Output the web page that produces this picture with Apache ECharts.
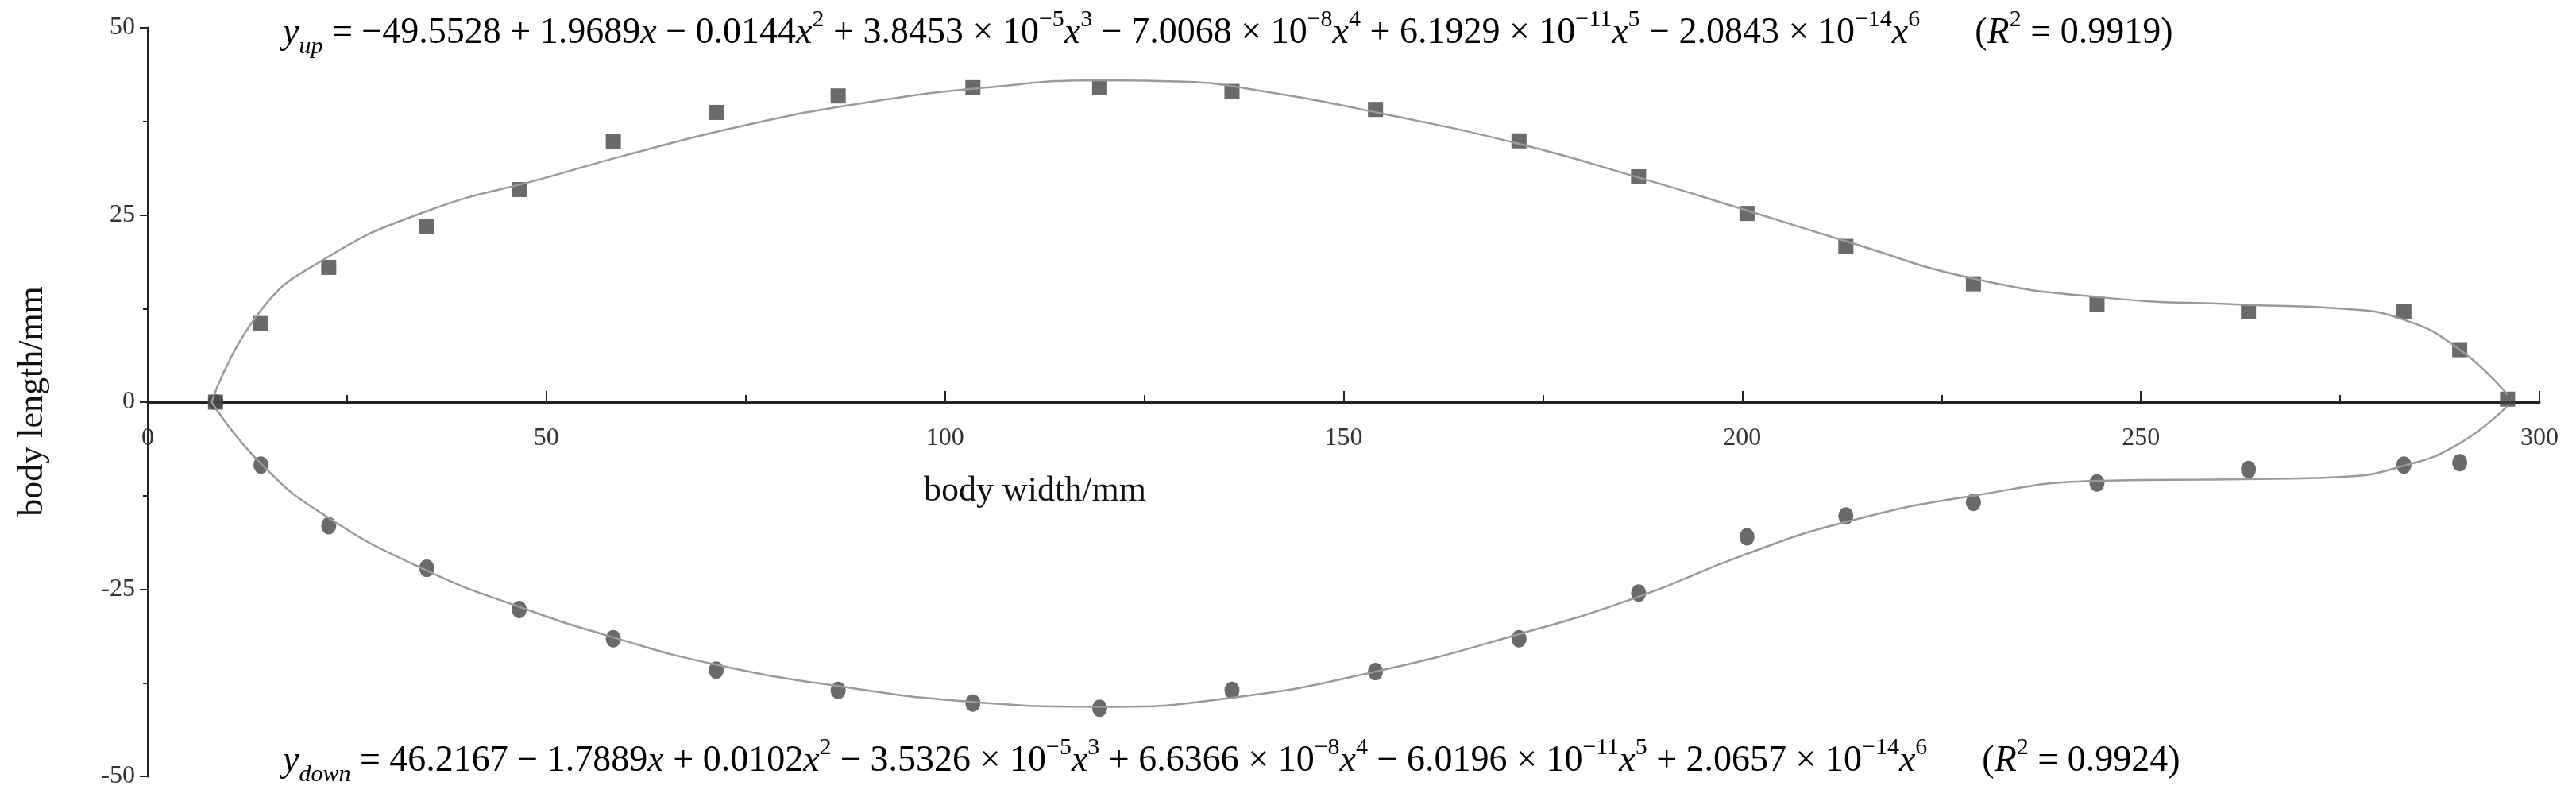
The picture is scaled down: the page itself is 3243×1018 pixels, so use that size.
<!DOCTYPE html>
<html><head><meta charset="utf-8">
<script src="https://cdn.jsdelivr.net/npm/echarts@6/dist/echarts.min.js"></script>
<style>html,body{margin:0;padding:0;background:#fff}#c{width:3243px;height:1018px}</style>
</head><body><div id="c"></div>
<script>
const upX = [8.5,14.2,22.7,35,46.6,58.4,71.3,86.6,103.5,119.4,136,154,172,187,200.6,213,229,244.5,263.5,283,290,296];
const upY = [0,10.5,18,23.5,28.4,34.8,38.7,40.9,42,42,41.5,39.1,34.9,30.1,25.2,20.8,15.8,13,12.1,12.1,7,0.4];
const downX = [14.2,22.7,35,46.6,58.4,71.3,86.6,103.5,119.4,136,154,172,187,200.6,213,229,244.5,263.5,283,290];
const downY = [-8.4,-16.5,-22.2,-27.7,-31.6,-35.8,-38.5,-40.2,-40.9,-38.5,-36,-31.6,-25.5,-18,-15.2,-13.4,-10.8,-9,-8.4,-8.1];
const fitUpX = [8,14,22,35,50,60,75,90,105,120,130,140,155,172,187,200,213,229,245,263,275,283,290,296];
const fitUpY = [0,12,19,25.5,30,33,37,40,42,43,42.8,41.5,38.5,34.5,30,25.8,21.5,16.5,14,13,12.5,11,7,1];
const fitDnX = [8,14,22,35,47,58,71,87,103,120,136,154,172,187,200,213,229,245,263,275,283,290,296];
const fitDnY = [0,-8,-15,-22.5,-27.5,-31.3,-35,-38,-40,-40.7,-39.5,-36,-31,-26,-20.5,-16,-12.5,-10.5,-10.3,-10,-8.5,-5.5,-0.5];
const xTicks = [0,50,100,150,200,250,300];
const yTicks = [-50,-25,0,25,50];

const pair = (xs, ys) => xs.map((x,i)=>[x,ys[i]]);
const fs = 46, ss = 30, lh = 64;
const base = {fontFamily:'Liberation Serif',color:'#111',lineHeight:lh};
const rich = {
  n:Object.assign({fontSize:fs},base),
  i:Object.assign({fontSize:fs,fontStyle:'italic'},base),
  sub:Object.assign({fontSize:ss,fontStyle:'italic',verticalAlign:'bottom'},base),
  sup:Object.assign({fontSize:ss,verticalAlign:'top'},base)
};
const eqUp = '{i|y}{sub|up}{n| = −49.5528 + 1.9689}{i|x}{n| − 0.0144}{i|x}{sup|2}{n| + 3.8453 × 10}{sup|−5}{i|x}{sup|3}{n| − 7.0068 × 10}{sup|−8}{i|x}{sup|4}{n| + 6.1929 × 10}{sup|−11}{i|x}{sup|5}{n| − 2.0843 × 10}{sup|−14}{i|x}{sup|6}{n|      (}{i|R}{sup|2}{n| = 0.9919)}';
const eqDn = '{i|y}{sub|down}{n| = 46.2167 − 1.7889}{i|x}{n| + 0.0102}{i|x}{sup|2}{n| − 3.5326 × 10}{sup|−5}{i|x}{sup|3}{n| + 6.6366 × 10}{sup|−8}{i|x}{sup|4}{n| − 6.0196 × 10}{sup|−11}{i|x}{sup|5}{n| + 2.0657 × 10}{sup|−14}{i|x}{sup|6}{n|      (}{i|R}{sup|2}{n| = 0.9924)}';

const chart = echarts.init(document.getElementById('c'));
const axisFont = {fontFamily:'Liberation Serif',fontSize:32,color:'#333'};
const gTop = 35, gBottom = 41, H = 1018;
const zeroY = gTop + (H - gTop - gBottom) / 2;
chart.setOption({
  animation:false,
  grid:[
    {left:186,right:46,top:gTop,bottom:gBottom,outerBoundsMode:'none',containLabel:false},
    {left:186,right:46,top:gTop,bottom:H - zeroY,outerBoundsMode:'none',containLabel:false}
  ],
  xAxis:[
    {type:'value',gridIndex:0,min:0,max:300,interval:50,show:false},
    {type:'value',gridIndex:1,min:0,max:300,interval:50,data:xTicks,
      axisLine:{onZero:false,lineStyle:{color:'#222',width:3}},
      axisTick:{inside:true,length:14,lineStyle:{color:'#222',width:2}},
      minorTick:{show:true,splitNumber:2,length:9,lineStyle:{color:'#222',width:2}},
      splitLine:{show:false},
      axisLabel:Object.assign({margin:30},axisFont)}
  ],
  yAxis:[
    {type:'value',gridIndex:0,min:-50,max:50,interval:25,
      axisLine:{onZero:false,lineStyle:{color:'#222',width:3}},
      axisTick:{length:10,lineStyle:{color:'#222',width:2}},
      minorTick:{show:true,splitNumber:2,length:6,lineStyle:{color:'#222',width:2}},
      splitLine:{show:false},
      axisLabel:Object.assign({margin:16},axisFont)},
    {type:'value',gridIndex:1,min:0,max:50,show:false}
  ],
  graphic:[
    {type:'text',left:356,top:10,style:{text:eqUp,rich:rich}},
    {type:'text',left:356,top:926,style:{text:eqDn,rich:rich}},
    {type:'text',x:1303,y:618,style:{text:'body width/mm',font:'44px "Liberation Serif"',fill:'#111',align:'center',verticalAlign:'middle'}},
    {type:'text',x:41,y:505,rotation:Math.PI/2,style:{text:'body length/mm',font:'44px "Liberation Serif"',fill:'#111',align:'center',verticalAlign:'middle'}}
  ],
  series:[
    {type:'line',data:pair(fitUpX,fitUpY),smooth:0.5,showSymbol:false,lineStyle:{color:'#9a9a9a',width:2.5}},
    {type:'line',data:pair(fitDnX,fitDnY),smooth:0.5,showSymbol:false,lineStyle:{color:'#9a9a9a',width:2.5}},
    {type:'scatter',data:pair(upX,upY),symbol:'rect',symbolSize:19,itemStyle:{color:'#454545'}},
    {type:'scatter',data:pair(downX,downY),symbol:'circle',symbolSize:[19,22],itemStyle:{color:'#454545'}},
    {type:'scatter',data:[[8.5,0]],symbol:'circle',symbolSize:20,itemStyle:{color:'#454545'}}
  ]
});
</script></body></html>
